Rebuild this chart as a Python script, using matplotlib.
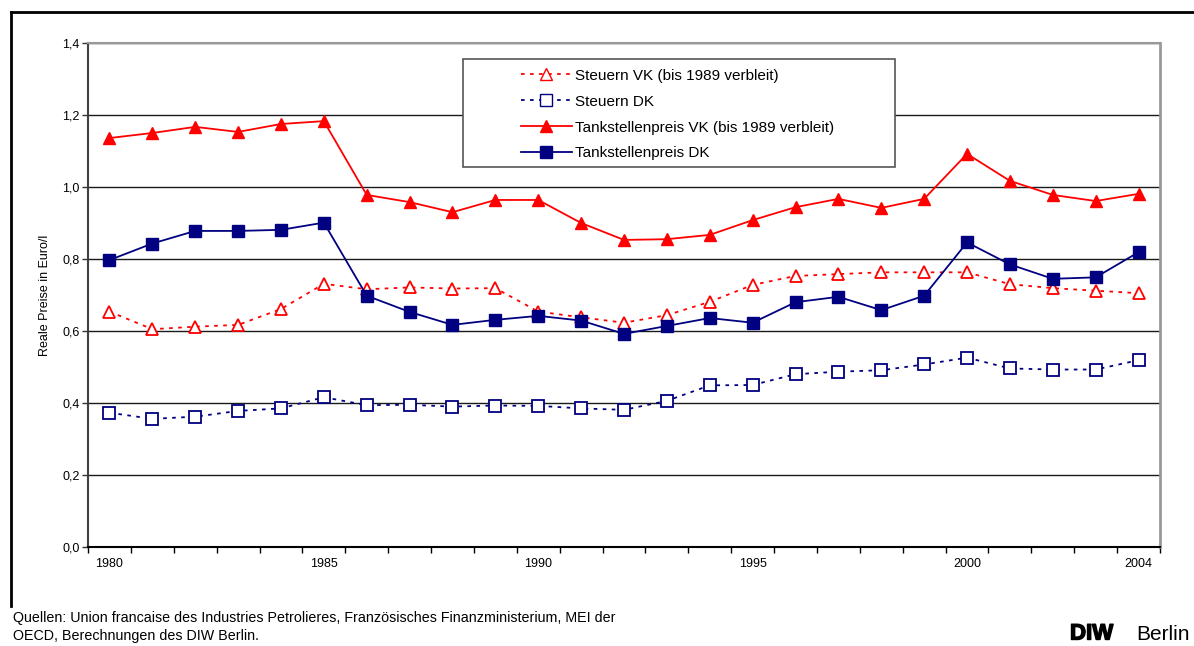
import matplotlib.pyplot as plt
import matplotlib.patheffects as pe
from matplotlib.lines import Line2D
from matplotlib.patches import Rectangle
from matplotlib.ticker import FuncFormatter

plt.rcParams['font.family'] = ['Liberation Sans', 'DejaVu Sans']

years = list(range(1980, 2005))
tick_years = [1980, 1985, 1990, 1995, 2000, 2004]

steuern_vk = [0.654, 0.605, 0.612, 0.617, 0.661, 0.731, 0.716, 0.721, 0.718, 0.719,
              0.654, 0.638, 0.623, 0.644, 0.681, 0.728, 0.753, 0.758, 0.763, 0.763,
              0.763, 0.730, 0.719, 0.712, 0.705]
steuern_dk = [0.373, 0.356, 0.362, 0.378, 0.385, 0.416, 0.394, 0.395, 0.390, 0.393,
              0.392, 0.385, 0.381, 0.406, 0.449, 0.450, 0.480, 0.487, 0.491, 0.507,
              0.526, 0.496, 0.493, 0.493, 0.519]
preis_vk = [1.136, 1.150, 1.167, 1.153, 1.175, 1.183, 0.978, 0.958, 0.930, 0.964,
            0.964, 0.900, 0.853, 0.855, 0.867, 0.908, 0.944, 0.967, 0.942, 0.967,
            1.092, 1.017, 0.978, 0.961, 0.981]
preis_dk = [0.797, 0.843, 0.878, 0.878, 0.881, 0.901, 0.698, 0.653, 0.617, 0.631,
            0.642, 0.629, 0.592, 0.614, 0.636, 0.623, 0.680, 0.695, 0.658, 0.698,
            0.846, 0.785, 0.745, 0.749, 0.819]

labels = ["Steuern VK (bis 1989 verbleit)", "Steuern DK",
          "Tankstellenpreis VK (bis 1989 verbleit)", "Tankstellenpreis DK"]

RED = "#ff0000"
NAVY = "#000080"
DOTS = (0, (2, 3))

fig = plt.figure(figsize=(11.94, 6.46), dpi=100)
ax = fig.add_axes([88 / 1194, 1 - 547 / 646, 1072 / 1194, 504 / 646])

x = list(range(len(years)))
ax.plot(x, steuern_vk, color=RED, lw=1.3, ls=DOTS, marker="^", ms=8,
        mfc="white", mec=RED, mew=1.3, zorder=3)
ax.plot(x, steuern_dk, color=NAVY, lw=1.3, ls=DOTS, marker="s", ms=8,
        mfc="white", mec=NAVY, mew=1.3, zorder=3)
ax.plot(x, preis_vk, color=RED, lw=1.3, marker="^", ms=9, mfc=RED, mec=RED, zorder=4)
ax.plot(x, preis_dk, color=NAVY, lw=1.3, marker="s", ms=9, mfc=NAVY, mec=NAVY, zorder=4)

ax.set_xlim(-0.5, len(years) - 0.5)
ax.set_ylim(0, 1.4)
ax.set_yticks([0, 0.2, 0.4, 0.6, 0.8, 1.0, 1.2, 1.4])
ax.yaxis.set_major_formatter(FuncFormatter(lambda v, p: f"{v:.1f}".replace(".", ",")))
ax.yaxis.grid(True, color="#1a1a1a", lw=1.0)
ax.set_axisbelow(True)

# tick marks sit between the categories, labels under the category centres
ax.set_xticks([i - 0.5 for i in range(len(years) + 1)])
ax.set_xticklabels([])
ax.set_xticks([years.index(y) for y in tick_years], minor=True)
ax.set_xticklabels([str(y) for y in tick_years], minor=True)
ax.tick_params(axis="x", which="major", direction="out", length=4, width=1, color="black")
ax.tick_params(axis="x", which="minor", length=0, pad=8, labelsize=9)
ax.tick_params(axis="y", direction="out", length=4, width=1, color="#333333",
               labelsize=9, pad=2)

ax.spines["left"].set_color("#404040")
ax.spines["bottom"].set_color("black")
ax.spines["top"].set_color("#999999")
ax.spines["right"].set_color("#999999")
ax.spines["right"].set_linewidth(2)
ax.spines["top"].set_linewidth(1.5)
ax.spines["left"].set_linewidth(1.5)
ax.spines["bottom"].set_linewidth(1.5)

ax.set_ylabel("Reale Preise in Euro/l", fontsize=9, labelpad=8)

# legend box
fig.patches.append(Rectangle((463 / 1194, 1 - 167 / 646), 432 / 1194, 108 / 646,
                             transform=fig.transFigure, facecolor="white",
                             edgecolor="#555555", lw=1.2, zorder=5))
handles = [
    Line2D([], [], color=RED, lw=1.3, ls=DOTS, marker="^", ms=8, mfc="white", mec=RED),
    Line2D([], [], color=NAVY, lw=1.3, ls=DOTS, marker="s", ms=8, mfc="white", mec=NAVY),
    Line2D([], [], color=RED, lw=1.3, marker="^", ms=9, mfc=RED, mec=RED),
    Line2D([], [], color=NAVY, lw=1.3, marker="s", ms=9, mfc=NAVY, mec=NAVY),
]
leg = fig.legend(handles, labels, loc="upper left",
                 bbox_to_anchor=(510 / 1194, 1 - 58 / 646), frameon=False,
                 fontsize=11, handlelength=3.35, handletextpad=0.2,
                 labelspacing=0.78, borderpad=0.2)
leg.set_zorder(6)

# outer frame
fig.add_artist(Line2D([11 / 1194, 11 / 1194], [1 - 606 / 646, 1 - 12 / 646],
                      transform=fig.transFigure, color="black", lw=2))
fig.add_artist(Line2D([11 / 1194, 1.0], [1 - 12 / 646, 1 - 12 / 646],
                      transform=fig.transFigure, color="black", lw=2))

fig.text(13 / 1194, 1 - 618 / 646,
         "Quellen: Union francaise des Industries Petrolieres, Französisches "
         "Finanzministerium, MEI der", fontsize=10.3, va="center")
fig.text(13 / 1194, 1 - 636 / 646, "OECD, Berechnungen des DIW Berlin.",
         fontsize=10.3, va="center")
fig.text(1070 / 1194, 1 - 634 / 646, "DIW", fontsize=16, fontweight="bold", va="center",
         path_effects=[pe.withStroke(linewidth=1.0, foreground="black")])
fig.text(1190 / 1194, 1 - 634 / 646, "Berlin", fontsize=15, ha="right", va="center")

fig.savefig("out.png", dpi=100)
